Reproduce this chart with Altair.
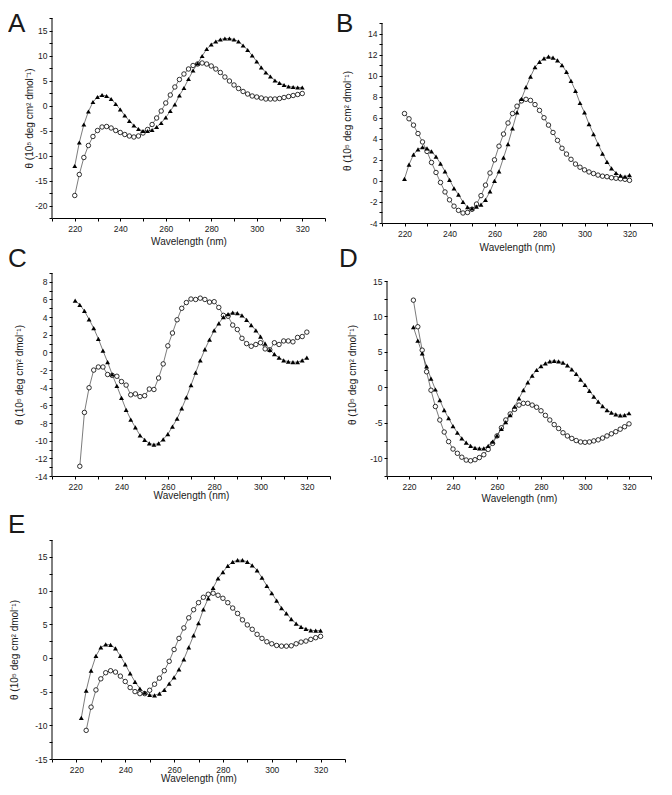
import altair as alt
import pandas as pd
import numpy as np

WL = list(range(220, 321, 2))  # wavelength (nm)

A_tri = [-12.1, -7.4, -3.8, -1.2, 0.7, 1.7, 2.1, 1.9, 1.3, 0.3, -0.8,
         -2.0, -3.1, -4.0, -4.7, -5.1, -5.1, -4.9, -4.3, -3.5, -2.4,
         -1.1, 0.2, 2.0, 3.5, 5.3, 7.0, 8.4, 9.9, 11.3, 12.2,
         12.8, 13.2, 13.4, 13.4, 13.2, 12.8, 12.0, 11.1, 10.0, 8.8,
         7.6, 6.6, 5.8, 5.0, 4.5, 4.1, 3.8, 3.7, 3.6, 3.6]
A_circ = [-18.0, -13.8, -10.4, -8.0, -6.2, -5.0, -4.3, -4.2, -4.5, -5.0, -5.4,
          -5.8, -6.1, -6.3, -6.1, -5.5, -4.8, -3.8, -2.5, -1.1, 0.5,
          2.1, 3.7, 5.2, 6.3, 7.3, 8.0, 8.3, 8.5, 8.3, 7.9,
          7.3, 6.6, 5.7, 4.9, 4.1, 3.4, 2.8, 2.3, 1.9, 1.7,
          1.5, 1.3, 1.3, 1.3, 1.4, 1.6, 1.8, 2.0, 2.2, 2.4]

B_tri = [0.2, 1.55, 2.5, 3.0, 3.2, 3.1, 2.8, 2.3, 1.65, 0.9, 0.1,
         -0.7, -1.3, -2.0, -2.5, -2.6, -2.45, -2.25, -1.8, -1.0, 0.0,
         0.9, 2.2, 3.5, 5.0, 6.5, 7.8, 8.9, 9.9, 10.8, 11.3,
         11.65, 11.8, 11.7, 11.45, 11.0, 10.35, 9.5, 8.55, 7.4, 6.5,
         5.4, 4.45, 3.5, 2.6, 1.8, 1.2, 0.75, 0.5, 0.4, 0.55]
B_circ = [6.4, 5.9, 5.3, 4.5, 3.7, 2.8, 1.75, 0.8, -0.15, -1.05, -1.8,
          -2.4, -2.8, -3.05, -3.0, -2.7, -2.2, -1.4, -0.4, 0.75, 2.0,
          3.3, 4.45, 5.5, 6.4, 7.1, 7.6, 7.75, 7.65, 7.25, 6.7,
          6.0, 5.3, 4.6, 3.85, 3.1, 2.55, 2.05, 1.6, 1.3, 1.05,
          0.85, 0.7, 0.55, 0.45, 0.4, 0.3, 0.25, 0.2, 0.15, 0.05]

C_tri = [5.86, 5.4, 4.7, 3.75, 2.75, 1.55, 0.2, -1.1, -2.5, -3.8, -5.15,
         -6.5, -7.6, -8.5, -9.4, -9.9, -10.3, -10.45, -10.3, -9.85, -9.25,
         -8.4, -7.5, -6.35, -5.1, -3.7, -2.3, -0.9, 0.35, 1.45, 2.5,
         3.3, 4.0, 4.35, 4.5, 4.45, 4.2, 3.7, 3.1, 2.5, 1.8,
         1.0, 0.3, -0.2, -0.6, -0.9, -1.05, -1.1, -1.1, -0.9, -0.6]
C_circ = [None, -12.9, -6.8, -4.0, -2.0, -1.65, -1.65, -2.5, -2.6, -2.7, -3.3,
          -3.7, -4.8, -4.7, -5.0, -4.9, -4.15, -4.2, -2.9, -1.3, 0.75,
          2.2, 3.7, 5.0, 5.65, 6.05, 6.0, 6.15, 6.0, 5.7, 5.75,
          5.1, 4.2, 4.1, 3.1, 2.6, 1.6, 1.0, 0.7, 0.9, 1.1,
          0.4, 0.3, 1.1, 0.9, 1.3, 1.3, 1.2, 1.7, 1.8, 2.3]

D_tri = [None, 8.5, 6.6, 4.8, 2.95, 1.25, -0.3, -1.8, -3.2, -4.35, -5.45,
         -6.4, -7.2, -7.8, -8.25, -8.55, -8.6, -8.6, -8.25, -7.65, -6.8,
         -5.85, -4.9, -3.9, -2.7, -1.55, -0.4, 0.7, 1.65, 2.45, 3.0,
         3.4, 3.65, 3.75, 3.65, 3.5, 3.1, 2.55, 1.9, 1.1, 0.35,
         -0.5, -1.3, -2.0, -2.65, -3.2, -3.55, -3.8, -3.95, -3.9, -3.65]
D_circ = [None, 12.3, 8.55, 5.25, 2.2, -0.4, -2.7, -4.6, -6.3, -7.65, -8.7,
          -9.3, -9.85, -10.25, -10.35, -10.2, -9.9, -9.5, -8.75, -7.9, -6.85,
          -5.7, -4.6, -3.75, -3.1, -2.5, -2.25, -2.25, -2.5, -2.8, -3.3,
          -3.95, -4.6, -5.25, -5.8, -6.4, -6.85, -7.2, -7.5, -7.7, -7.75,
          -7.7, -7.55, -7.4, -7.15, -6.85, -6.55, -6.25, -5.9, -5.55, -5.15]

E_tri = [None, -8.9, -4.85, -1.9, 0.3, 1.55, 2.0, 1.95, 1.4, 0.3, -0.95,
         -2.3, -3.55, -4.55, -5.15, -5.5, -5.55, -5.3, -4.75, -3.8, -2.9,
         -1.7, -0.2, 1.55, 3.35, 5.15, 7.2, 8.85, 10.4, 11.8, 12.75,
         13.65, 14.25, 14.5, 14.5, 14.25, 13.75, 13.0, 11.9, 10.7, 9.6,
         8.5, 7.4, 6.6, 5.75, 5.1, 4.6, 4.3, 4.1, 4.05, 4.05]
E_circ = [None, None, -10.75, -7.3, -4.75, -3.1, -2.2, -1.9, -2.1, -2.7, -3.5,
          -4.4, -5.0, -5.3, -5.3, -4.8, -3.9, -3.0, -1.9, -0.5, 1.25,
          2.9, 4.45, 5.95, 7.15, 8.2, 9.0, 9.45, 9.6, 9.3, 8.85,
          8.2, 7.4, 6.6, 5.65, 4.9, 4.25, 3.5, 2.9, 2.4, 2.1,
          1.85, 1.75, 1.75, 1.8, 2.1, 2.35, 2.5, 2.75, 3.0, 3.2]

Y_TITLE = "θ (10⁵ deg cm² dmol⁻¹)"
X_TITLE = "Wavelength (nm)"
FONT = "Liberation Sans"
INK = "#1a1a1a"


def panel(letter, tri, circ, ydom, ytop, ymajor, yminor, w, h,
          ytitle_x, xtitle_y, letter_x, letter_y):
    df = pd.DataFrame({
        "wl": WL + WL,
        "val": tri + circ,
        "series": ["tri"] * len(WL) + ["circ"] * len(WL),
    }).dropna()

    yvals = [float(v) for v in np.arange(ydom[0], ytop + 1e-9, yminor)]
    xvals = list(range(210, 331, 10))

    x = alt.X("wl:Q", scale=alt.Scale(domain=[210, 330], nice=False, zero=False),
              axis=alt.Axis(values=xvals, title=X_TITLE,
                            labelExpr="(datum.value % 20 == 0 && datum.value >= 220 && datum.value <= 320) ? toString(datum.value) : ''",
                            labelPadding=3, titleY=xtitle_y, titleBaseline="middle"))
    y = alt.Y("val:Q", scale=alt.Scale(domain=list(ydom), nice=False, zero=False),
              axis=alt.Axis(values=yvals, title=Y_TITLE, domain=False,
                            labelExpr=f"abs(datum.value % {ymajor}) < 1e-6 ? toString(datum.value) : ''",
                            labelPadding=2, titleX=ytitle_x, titleBaseline="middle"))

    base = alt.Chart(df)
    # y axis line, running from the bottom of the scale up to the top tick
    yaxis_line = alt.Chart(pd.DataFrame({"val": [ydom[0]], "val2": [ytop]})).mark_rule(
        color="black", strokeWidth=1).encode(x=alt.value(0), y=y, y2="val2:Q")
    lines = base.mark_line(color="#444444", strokeWidth=0.7).encode(
        x=x, y=y, detail="series:N")
    tris = base.transform_filter(alt.datum.series == "tri").mark_point(
        shape="triangle-up", filled=True, color="black", size=24, opacity=1
    ).encode(x=x, y=y)
    circs = base.transform_filter(alt.datum.series == "circ").mark_point(
        shape="circle", filled=False, fill="white", fillOpacity=1, stroke="black",
        strokeWidth=0.8, size=20, opacity=1
    ).encode(x=x, y=y)
    lab = alt.Chart(pd.DataFrame({"t": [letter]})).mark_text(
        align="left", baseline="top", fontSize=26, font=FONT, color=INK
    ).encode(x=alt.value(letter_x), y=alt.value(letter_y), text="t:N")
    return alt.layer(lines, circs, tris, yaxis_line, lab).properties(width=w, height=h)


pA = panel("A", A_tri, A_circ, (-22.5, 17.5), 17.5, 5, 2.5, 273, 200, -23, 23, -44, -7)
pB = panel("B", B_tri, B_circ, (-4, 15.475), 15, 2, 1, 270, 205, -34.5, 24, -46, -7)
pC = panel("C", C_tri, C_circ, (-14, 9), 9, 2, 1, 278, 203, -32.5, 19.5, -44, -27)
pD = panel("D", D_tri, D_circ, (-12.5, 16.13), 15, 5, 2.5, 264, 203, -35, 22, -48, -27)
pE = panel("E", E_tri, E_circ, (-15, 17.5), 17.5, 5, 2.5, 293, 219, -38, 19.5, -44, -28)

row1 = alt.hconcat(pA, pB, spacing=10)
row2 = alt.hconcat(pC, pD, spacing=8)

chart = alt.vconcat(
    alt.vconcat(row1, row2, spacing=-6),
    pE, spacing=9
).properties(
    padding={"top": 3, "left": 0, "right": 0, "bottom": 0}, background="white"
).configure_view(stroke=None).configure_axis(
    grid=False, domainColor="black", domainWidth=1, tickColor="black", tickWidth=1,
    tickSize=3, labelColor=INK, labelFont=FONT, labelFontSize=8.5,
    titleColor=INK, titleFont=FONT, titleFontSize=10, titleFontWeight="normal",
    labelOverlap=False, labelFlush=False
)

chart.save("out.html", embed_options={"renderer": "svg", "actions": False})
